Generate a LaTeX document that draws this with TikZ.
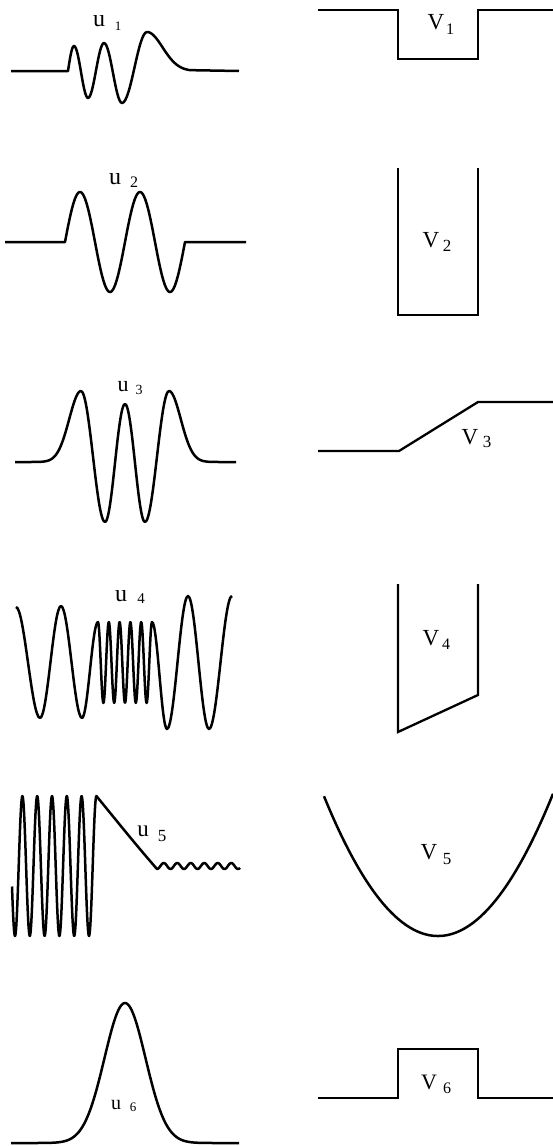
\documentclass[tikz,border=0pt]{standalone}
\usepackage{fontspec}
\setmainfont{Liberation Serif}
\begin{document}
\begin{tikzpicture}[x=1pt,y=-1pt,
  wave/.style={line width=2.5pt,line join=round},
  well/.style={line width=2.3pt},
  labbig/.style={inner sep=0,anchor=center,font=\fontsize{#1}{#1}\selectfont},
  labsub/.style={inner sep=0,anchor=center,font=\fontsize{#1}{#1}\selectfont}]
\useasboundingbox (0,0) rectangle (553,1146);

% ---------- u1 ----------
\draw[wave] (11,71) -- (68,71) .. controls +(2,-13) and +(-2.2,0) .. (74,46)
  .. controls +(5.1,0) and +(-5.1,0) .. (88,98)
  .. controls +(5.8,0) and +(-5.8,0) .. (104,43)
  .. controls +(6.6,0) and +(-6.6,0) .. (122,103)
  .. controls +(9.1,0) and +(-9.1,0) .. (147,32)
  -- plot[domain=147:190,samples=40] (\x,{71-39*exp(-(\x-147)*(\x-147)/484)})
  -- (239,71);
\node[labbig=24] (u1l) at (99,21) {u};
\node[labsub=13] (u1s) at (118,26) {1};

% ---------- u2 ----------
\draw[wave] (5,242) -- (65,242)
  -- plot[domain=65:185,samples=121] (\x,{242-50*sin(6*(\x-65))})
  -- (246,242);
\node[labbig=24] (u2l) at (115,179) {u};
\node[labsub=16] (u2s) at (134,182) {2};

% ---------- u3 ----------
\draw[wave] plot[domain=15:81,samples=60] (\x,{462-71*exp(-(\x-81)*(\x-81)/275.56)})
  .. controls +(8.7,0) and +(-8.7,0) .. (105,522)
  .. controls +(7.3,0) and +(-7.3,0) .. (125,404)
  .. controls +(7.3,0) and +(-7.3,0) .. (145,522)
  .. controls +(8.7,0) and +(-8.7,0) .. (169,391)
  -- plot[domain=169:236,samples=60] (\x,{462-71*exp(-(\x-169)*(\x-169)/275.56)});
\node[labbig=22] (u3l) at (123,387) {u};
\node[labsub=14] (u3s) at (139,390) {3};

% ---------- u4 ----------
\draw[wave] (16,607)
  .. controls +(8.4,0) and +(-8.4,0) .. (40,718)
  .. controls +(7.6,0) and +(-7.6,0) .. (61,606)
  .. controls +(7.6,0) and +(-7.6,0) .. (82,718)
  .. controls +(5.8,0) and +(-5.8,0) .. (98,622)
  -- plot[domain=98:152,samples=120] (\x,{662.5-40.5*cos(33.3333*(\x-98))})
  .. controls +(5.5,0) and +(-5.5,0) .. (167,729)
  .. controls +(7.6,0) and +(-7.6,0) .. (188,596)
  .. controls +(7.6,0) and +(-7.6,0) .. (209,729)
  .. controls +(8.4,0) and +(-8.4,0) .. (232,596);
\node[labbig=24] (u4l) at (121,596) {u};
\node[labsub=15] (u4s) at (141,599) {4};

% ---------- u5 ----------
\draw[wave] plot[domain=12:96.4,samples=220] (\x,{866+70*sin(24.3243*(\x-11.3))})
  .. controls (116,820) and (136,845) .. (157,869)
  -- plot[domain=157:240,samples=120] (\x,{866+3*cos(26.6667*(\x-157))});
\node[labbig=23] (u5l) at (143,831) {u};
\node[labsub=17] (u5s) at (162,836) {5};

% ---------- u6 ----------
\draw[wave] plot[domain=11:239,samples=160] (\x,{1143-140*exp(-(\x-125)*(\x-125)/841)});
\node[labbig=20] (u6l) at (116,1105) {u};
\node[labsub=13] (u6s) at (133,1107) {6};

% ---------- V1 ----------
\draw[well] (318,10) -- (398,10) -- (398,59) -- (478,59) -- (478,10) -- (553,10);
\node[labbig=23] (v1l) at (436,22) {V};
\node[labsub=16] (v1s) at (450,29) {1};

% ---------- V2 ----------
\draw[well] (398,168) -- (398,315) -- (478,315) -- (478,168);
\node[labbig=23] (v2l) at (431,240) {V};
\node[labsub=17] (v2s) at (447,246) {2};

% ---------- V3 ----------
\draw[well] (318,451) -- (399,451) -- (478,402) -- (553,402);
\node[labbig=23] (v3l) at (470,437) {V};
\node[labsub=17] (v3s) at (487,442) {3};

% ---------- V4 ----------
\draw[well] (398,584) -- (398,732) -- (478,695) -- (478,584);
\node[labbig=23] (v4l) at (431,638) {V};
\node[labsub=16] (v4s) at (446,644) {4};

% ---------- V5 ----------
\draw[wave] plot[domain=324:553,samples=120] (\x,{936-141*((\x-438)/114.5)*((\x-438)/114.5)});
\node[labbig=23] (v5l) at (429,852) {V};
\node[labsub=17] (v5s) at (447,859) {5};

% ---------- V6 ----------
\draw[well] (318,1098) -- (398,1098) -- (398,1049) -- (478,1049) -- (478,1098) -- (553,1098);
\node[labbig=22] (v6l) at (429,1082) {V};
\node[labsub=16] (v6s) at (447,1088) {6};
\end{tikzpicture}
\end{document}
